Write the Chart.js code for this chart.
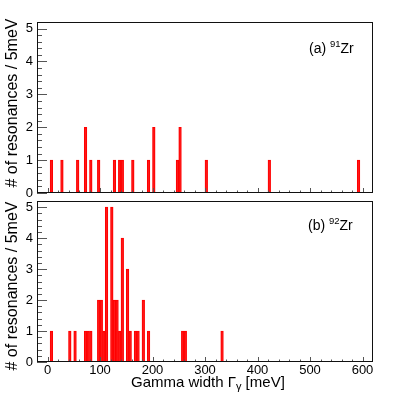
<!DOCTYPE html>
<html><head><meta charset="utf-8">
<script src="https://cdn.jsdelivr.net/npm/chart.js@4.4.1/dist/chart.umd.min.js"></script>
<style>
html,body{margin:0;padding:0;background:#fff;}
#wrap{position:relative;width:415px;height:396px;background:#fff;}
#wrap canvas{position:absolute;left:0;top:0;}
</style></head><body>
<div id="wrap">
<canvas id="cTop" width="415" height="396"></canvas>
<canvas id="cBot" width="415" height="396"></canvas>
</div>
<script>
// ---- data (bin lower edges in meV, counts per 5 meV bin) ----
const binWidth = 5;
const histMin = -20;
const histMax = 620;
const zr91BinStarts = [5, 25, 55, 70, 80, 95, 125, 135, 140, 160, 190, 200, 245, 250, 300, 420, 590];
const zr91Counts    = [1, 1, 1, 2, 1, 1, 1, 1, 1, 1, 1, 2, 1, 2, 1, 1, 1];
const zr92BinStarts = [5, 40, 50, 70, 75, 80, 95, 100, 105, 110, 120, 125, 130, 135, 140, 150, 155, 165, 170, 180, 190, 255, 260, 330];
const zr92Counts    = [1, 1, 1, 1, 1, 1, 2, 2, 1, 5, 5, 2, 2, 1, 4, 3, 1, 1, 1, 2, 1, 1, 1, 1];
const xTickValues = [0, 100, 200, 300, 400, 500, 600];
const yTickValues = [0, 1, 2, 3, 4, 5];
const yMax = 5.2;

function buildHist(starts, counts) {
  const pts = [];
  for (let e = histMin; e < histMax; e += binWidth) {
    const i = starts.indexOf(e);
    pts.push({x: e + binWidth / 2, y: i >= 0 ? counts[i] : null});
  }
  return pts;
}

const FONT = '"Liberation Sans", Arial, Helvetica, sans-serif';

const rootFrame = {
  id: 'rootFrame',
  afterDraw(chart, args, o) {
    const {ctx, chartArea: a, scales: {x, y}} = chart;
    ctx.save();
    ctx.strokeStyle = '#555';
    ctx.lineWidth = 1;
    ctx.beginPath();
    for (let v = 0; v <= 600; v += 20) {
      const px = Math.round(x.getPixelForValue(v)) + 0.5;
      const len = v % 100 === 0 ? o.xMajor : o.xMinor;
      ctx.moveTo(px, a.bottom); ctx.lineTo(px, a.bottom - len);
    }
    for (let i = 0; i <= 25; i++) {
      const py = Math.round(y.getPixelForValue(i / 5)) + 0.5;
      const len = i % 5 === 0 ? o.yMajor : o.yMinor;
      ctx.moveTo(a.left, py); ctx.lineTo(a.left + len, py);
    }
    ctx.stroke();
    ctx.strokeStyle = '#111';
    ctx.strokeRect(a.left + 0.5, a.top + 0.5, a.right - a.left - 1, a.bottom - a.top - 1);

    ctx.fillStyle = '#000';
    // y title
    ctx.save();
    ctx.translate(o.yTitle.cx, o.yTitle.cy);
    ctx.rotate(-Math.PI / 2);
    ctx.font = '16px ' + FONT;
    ctx.textAlign = 'center';
    ctx.textBaseline = 'middle';
    ctx.fillText(o.yTitle.text, 0, 0);
    ctx.restore();

    // panel label
    const L = o.label;
    ctx.textAlign = 'left';
    ctx.textBaseline = 'alphabetic';
    let cx = L.x;
    ctx.font = '14px ' + FONT;
    ctx.fillText(L.pre, cx, L.base); cx += ctx.measureText(L.pre).width;
    ctx.font = '9.5px ' + FONT;
    ctx.fillText(L.sup, cx, L.base - 6); cx += ctx.measureText(L.sup).width;
    ctx.font = '14px ' + FONT;
    ctx.fillText(L.post, cx, L.base);

    // x title
    if (o.xTitle) {
      const T = o.xTitle;
      let tx = T.x;
      ctx.font = '15px ' + FONT;
      ctx.fillText(T.main, tx, T.base); tx += ctx.measureText(T.main).width;
      ctx.font = '11px ' + FONT;
      ctx.fillText(T.sub, tx, T.base + 3); tx += ctx.measureText(T.sub).width;
      ctx.font = '15px ' + FONT;
      ctx.fillText(T.post, tx, T.base);
    }
    ctx.restore();
  }
};

function makeChart(id, data, pad, xHeight, showXLabels, frameOpts) {
  return new Chart(document.getElementById(id), {
    type: 'bar',
    data: {
      datasets: [{
        data: data,
        backgroundColor: 'rgba(255,40,40,0.45)',
        borderColor: '#ff0000',
        borderWidth: 1,
        barPercentage: 1,
        categoryPercentage: 1
      }]
    },
    options: {
      responsive: false,
      animation: false,
      devicePixelRatio: 1,
      layout: {padding: pad},
      plugins: {legend: {display: false}, tooltip: {enabled: false}, rootFrame: frameOpts},
      scales: {
        x: {
          type: 'linear', min: histMin, max: histMax, offset: false,
          grid: {display: false, drawTicks: false},
          border: {display: false},
          afterBuildTicks: s => { s.ticks = xTickValues.map(v => ({value: v})); },
          afterFit: s => { s.height = xHeight; },
          ticks: {display: showXLabels, padding: 1, color: '#000', font: {size: 13, family: FONT}, maxRotation: 0, autoSkip: false}
        },
        y: {
          min: 0, max: yMax,
          grid: {display: false, drawTicks: false},
          border: {display: false},
          afterBuildTicks: s => { s.ticks = yTickValues.map(v => ({value: v})); },
          afterFit: s => { s.width = 37; },
          ticks: {padding: 4, color: '#000', font: {size: 13, family: FONT}}
        }
      }
    },
    plugins: [rootFrame]
  });
}

makeChart('cTop', buildHist(zr91BinStarts, zr91Counts),
  {left: 0, top: 22, right: 42, bottom: 0}, 396 - 193, false,
  {xMajor: 5, xMinor: 2.5, yMajor: 10, yMinor: 5,
   yTitle: {text: '# of resonances / 5meV', cx: 12.5, cy: 103},
   label: {x: 309, base: 52.5, pre: '(a) ', sup: '91', post: 'Zr'}});

makeChart('cBot', buildHist(zr92BinStarts, zr92Counts),
  {left: 0, top: 201, right: 42, bottom: 0}, 396 - 362, true,
  {xMajor: 5, xMinor: 2.5, yMajor: 10, yMinor: 5,
   yTitle: {text: '# of resonances / 5meV', cx: 12.5, cy: 286},
   label: {x: 308, base: 230, pre: '(b) ', sup: '92', post: 'Zr'},
   xTitle: {x: 131, base: 387, main: 'Gamma width \u0393', sub: '\u03b3', post: ' [meV]'}});
</script>
</body></html>
